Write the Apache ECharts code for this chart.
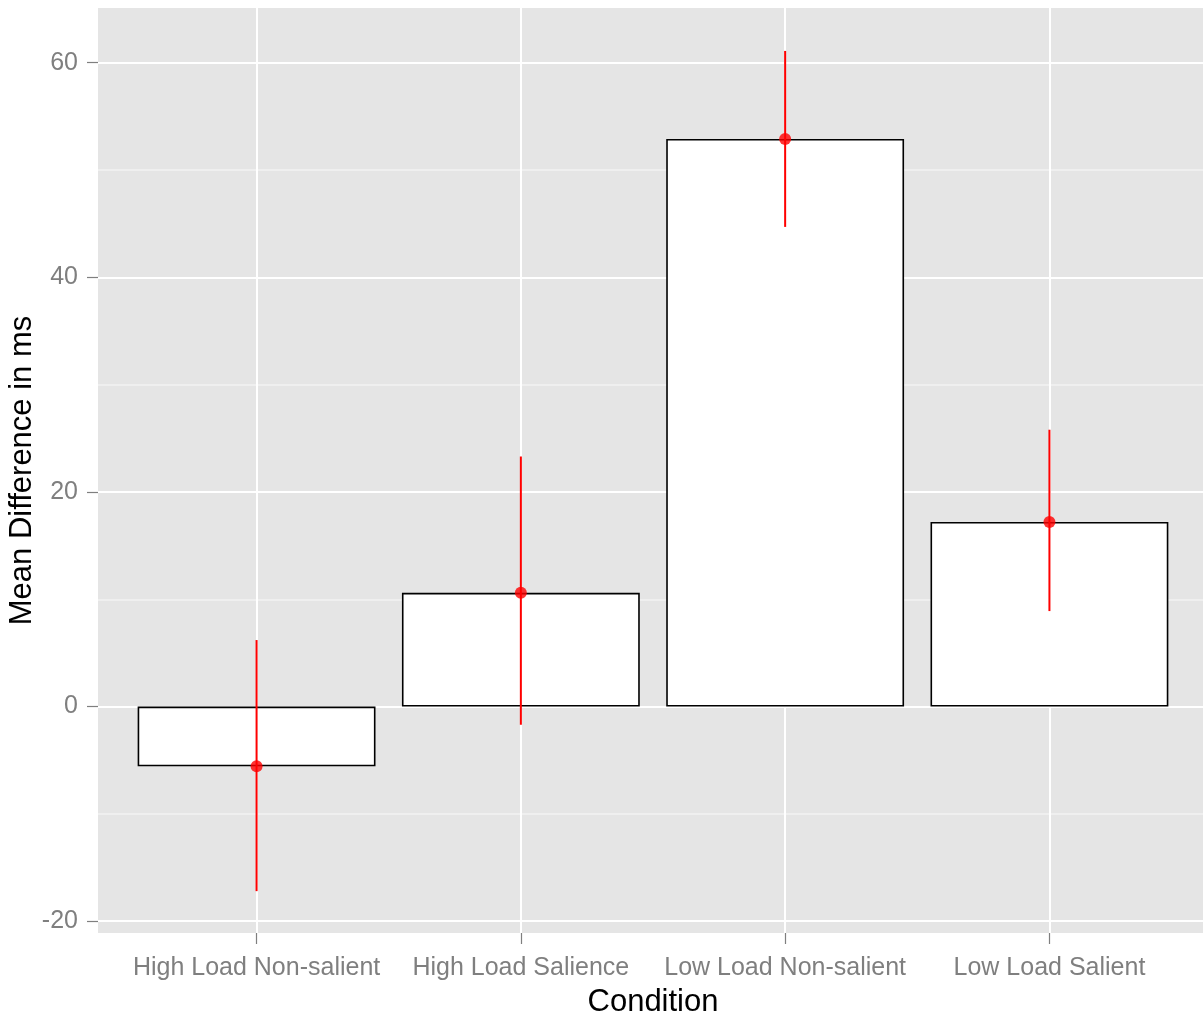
<!DOCTYPE html>
<html>
<head>
<meta charset="utf-8">
<script src="https://cdn.jsdelivr.net/npm/echarts@6/dist/echarts.min.js"></script>
<style>html,body{margin:0;padding:0;background:#fff}#c{width:1203px;height:1017px}</style>
</head>
<body>
<div id="c"></div>
<script>
const categories = ['High Load Non-salient', 'High Load Salience', 'Low Load Non-salient', 'Low Load Salient'];
const means = [-5.57, 10.6, 52.9, 17.2];
const lower = [-17.2, -1.7, 44.7, 8.9];
const upper = [6.2, 23.3, 61.1, 25.8];
const yMajorTicks = [-20, 0, 20, 40, 60];
const yMinorTicks = [-10, 10, 30, 50];
const xTicks = categories.map((c, i) => i + 1);

const FONT = 'Liberation Sans, Arial, sans-serif';
const chart = echarts.init(document.getElementById('c'), null, {renderer: 'canvas'});

const barData = means.map((v, i) => [i + 1, v]);
const errData = means.map((v, i) => [i + 1, lower[i], upper[i]]);

chart.setOption({
  animation: false,
  backgroundColor: '#ffffff',
  grid: {
    left: 98, right: -5, top: 8, bottom: 84,
    outerBoundsMode: 'none', containLabel: false,
    show: true, backgroundColor: '#E5E5E5', borderWidth: 0
  },
  xAxis: {
    type: 'value', min: 0.4, max: 4.6, position: 'bottom',
    axisLine: {show: false, onZero: false},
    axisTick: {show: true, customValues: xTicks, length: 11, lineStyle: {color: '#7F7F7F', width: 1.2}},
    axisLabel: {show: true, customValues: xTicks, formatter: v => categories[Math.round(v) - 1] || '',
      color: '#7F7F7F', fontSize: 25, fontFamily: FONT, margin: 23},
    splitLine: {show: true, lineStyle: {color: '#ffffff', width: 2}},
    name: 'Condition', nameLocation: 'middle', nameGap: 54,
    nameTextStyle: {color: '#000', fontSize: 31, fontFamily: FONT}
  },
  yAxis: [{
    type: 'value', min: -21.1, max: 65.1, position: 'left',
    axisLine: {show: false, onZero: false},
    axisTick: {show: true, customValues: yMajorTicks, length: 11, lineStyle: {color: '#7F7F7F', width: 1.2}},
    axisLabel: {show: true, customValues: yMajorTicks, color: '#7F7F7F', fontSize: 25, fontFamily: FONT, margin: 20},
    splitLine: {show: true, lineStyle: {color: '#ffffff', width: 2}},
    name: 'Mean Difference in ms', nameLocation: 'middle', nameGap: 60, nameMoveOverlap: false,
    nameTextStyle: {color: '#000', fontSize: 31, fontFamily: FONT}
  }, {
    type: 'value', min: -21.1, max: 65.1, position: 'left', offset: 0,
    axisLine: {show: false, onZero: false},
    axisTick: {show: false, customValues: yMinorTicks},
    axisLabel: {show: false, customValues: yMinorTicks},
    splitLine: {show: true, lineStyle: {color: '#F2F2F2', width: 1.5}}
  }],
  series: [{
    type: 'bar',
    data: barData,
    barWidth: '90%',
    itemStyle: {color: '#ffffff', borderColor: '#000000', borderWidth: 1.6},
    z: 2
  }, {
    type: 'custom',
    data: errData,
    renderItem: function (params, api) {
      const x = api.value(0);
      const p1 = api.coord([x, api.value(1)]);
      const p2 = api.coord([x, api.value(2)]);
      return {type: 'line', shape: {x1: p1[0], y1: p1[1], x2: p2[0], y2: p2[1]},
        style: {stroke: '#FF0000', lineWidth: 2}};
    },
    z: 3
  }, {
    type: 'scatter',
    data: barData,
    symbol: 'circle', symbolSize: 12,
    itemStyle: {color: '#FF0000'},
    z: 4
  }]
});
</script>
</body>
</html>
